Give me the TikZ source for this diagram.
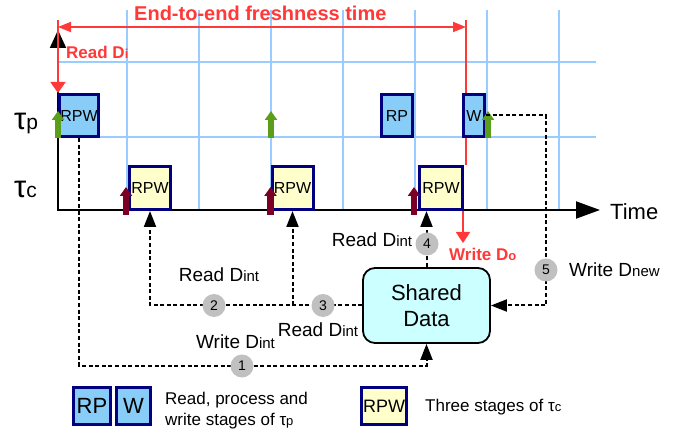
\documentclass[tikz,border=0pt]{standalone}
\usepackage{fontspec}
\setmainfont{Liberation Sans}
\usetikzlibrary{arrows.meta}
\definecolor{navy}{HTML}{000080}
\definecolor{pblue}{HTML}{88CCF8}
\definecolor{cyel}{HTML}{FFFFCC}
\definecolor{gridc}{HTML}{99CCFF}
\definecolor{rred}{HTML}{FF3838}
\definecolor{ggreen}{HTML}{5A9E1A}
\definecolor{dred}{HTML}{7A0025}
\definecolor{cgray}{HTML}{C0C0C0}
\definecolor{shcyan}{HTML}{CCFFFF}
\newcommand{\fs}[1]{\fontsize{#1}{#1}\selectfont}
\newcommand{\sm}[2]{{\fontsize{#1}{#1}\selectfont #2}}
\begin{document}
\begin{tikzpicture}[x=1pt,y=-1pt,
  gridline/.style={draw=gridc, line width=1.8pt},
  axisline/.style={draw=black, line width=2pt},
  pbox/.style={draw=navy, fill=pblue, line width=3pt, inner sep=0pt, font=\fs{16}},
  cbox/.style={draw=navy, fill=cyel, line width=3pt, inner sep=0pt, font=\fs{16}},
  dashline/.style={draw=black, line width=2pt, dash pattern=on 4pt off 2.6pt, -{Triangle[length=16pt,width=12pt]}},
  num/.style={circle, fill=cgray, minimum size=23pt, inner sep=0pt, font=\fs{14}},
  lbl/.style={inner sep=0pt, font=\fs{19}},
  redline/.style={draw=rred, line width=1.8pt},
  garrow/.style={draw=ggreen, line width=6.5pt, -{Triangle[length=9pt,width=12pt]}},
  rarrow/.style={draw=dred, line width=6.5pt, -{Triangle[length=9pt,width=12pt]}},
]
\useasboundingbox (0,0) rectangle (686,430);
\fill[white] (0,0) rectangle (686,430);

% grid
\foreach \gx in {127,199,271,343,415,487,559}
  \draw[gridline] (\gx,10) -- (\gx,210);
\foreach \gy in {62,137}
  \draw[gridline] (58,\gy) -- (596,\gy);

% axes
\coordinate (origin) at (58,210);
\coordinate (yend) at (58,30);
\coordinate (xend) at (600,210);
\draw[axisline, -{Triangle[length=18pt,width=16pt]}] (58,211) -- (yend);
\draw[axisline, -{Triangle[length=24pt,width=17pt]}] (57,210) -- (xend);
\node[anchor=west, inner sep=0pt, font=\fs{22}] (timelbl) at (610,212) {Time};
\node[anchor=base west, inner sep=0pt, font=\fs{31}] (taup) at (14,130) {τ\sm{21}{p}};
\node[anchor=base west, inner sep=0pt, font=\fs{31}] (tauc) at (14,198) {τ\sm{21}{c}};

% red end-to-end
\node[anchor=west, inner sep=0pt, text=rred, font=\fs{20}\bfseries] (e2e) at (134,13) {End-to-end freshness time};
\coordinate (e2eL) at (58,27);
\coordinate (e2eR) at (466,27);
\draw[redline, {Triangle[length=13pt,width=10pt]}-{Triangle[length=13pt,width=10pt]}] (e2eL) -- (e2eR);
\coordinate (rdtop) at (58,20);
\coordinate (rdbot) at (58,93);
\draw[redline, -{Triangle[length=11pt,width=15pt]}] (rdtop) -- (rdbot);
\node[anchor=west, inner sep=0pt, text=rred, font=\fs{17}\bfseries] (readdi) at (66,52) {Read D\sm{13}{i}};
\coordinate (wdtop) at (466,20);
\coordinate (wdmid) at (466,165);
\draw[redline] (wdtop) -- (wdmid);
\coordinate (wdax) at (463,210);
\coordinate (wdtip) at (463,243);
\draw[redline, -{Triangle[length=11pt,width=14pt]}] (wdax) -- (wdtip);
\node[anchor=west, inner sep=0pt, text=rred, font=\fs{17}\bfseries] (writedo) at (449,254) {Write D\sm{13}{o}};

% task boxes
\node[pbox, minimum width=39pt, minimum height=42pt] (p1) at (79,115.5) {RPW};
\node[pbox, minimum width=31pt, minimum height=42pt] (rp) at (397,115.5) {RP};
\node[pbox, minimum width=21pt, minimum height=42pt] (w) at (474,115.5) {W};
\node[cbox, minimum width=41pt, minimum height=43pt] (c1) at (150,188) {RPW};
\node[cbox, minimum width=41pt, minimum height=43pt] (c2) at (292.5,188) {RPW};
\node[cbox, minimum width=43pt, minimum height=43pt] (c3) at (441,188) {RPW};

% release arrows
\foreach \ax in {58,271,488}
  \draw[garrow] (\ax,138) -- (\ax,111);
\foreach \ax in {126,270.5,414}
  \draw[rarrow] (\ax,215) -- (\ax,187);

% shared data
\node[draw=black, fill=shcyan, rounded corners=12pt, line width=1.8pt,
      minimum width=127pt, minimum height=75pt, align=center,
      font=\fontsize{22}{26}\selectfont] (sd) at (426.5,305.5) {Shared\\Data};

% dashed data flows
\coordinate (y1) at (0,366);
\coordinate (x5) at (546,0);
\draw[dashline] (p1.south) |- (sd.south |- y1) -- (sd.south);
\draw[dashline] (sd.west) -| (c1.south);
\draw[dashline] (c2.south |- sd.west) -- (c2.south);
\draw[dashline] (sd.north) -- (sd.north |- c3.south);
\draw[dashline] (w.east) -| (x5 |- sd.east) -- (sd.east);

\node[num] (n1) at (242,366) {1};
\node[num] (n2) at (214,305.5) {2};
\node[num] (n3) at (323,305.5) {3};
\node[num] (n4) at (427,244) {4};
\node[num] (n5) at (546,270) {5};

\node[lbl] (l1) at (235.5,342) {Write D\sm{15}{int}};
\node[lbl] (l2) at (219,275) {Read D\sm{15}{int}};
\node[lbl] (l3) at (318,330) {Read D\sm{15}{int}};
\node[lbl] (l4) at (372,240) {Read D\sm{15}{int}};
\node[lbl, anchor=west] (l5) at (569,270) {Write D\sm{15}{new}};

% legend
\node[pbox, line width=3.5pt, minimum width=37pt, minimum height=37pt, font=\fs{22}] (lrp) at (92,406) {RP};
\node[pbox, line width=3.5pt, minimum width=34pt, minimum height=37pt, font=\fs{22}] (lw) at (133.5,406) {W};
\node[cbox, line width=3.5pt, minimum width=45pt, minimum height=37pt, font=\fs{18}] (lrpw) at (384,406) {RPW};
\node[anchor=base west, inner sep=0pt, font=\fs{17}] (lt1) at (165,405) {Read, process and};
\node[anchor=base west, inner sep=0pt, font=\fs{17}] (lt2) at (165,425) {write stages of τ\sm{13}{p}};
\node[anchor=base west, inner sep=0pt, font=\fs{17}] (lt3) at (425,412) {Three stages of τ\sm{13}{c}};
\end{tikzpicture}
\end{document}
